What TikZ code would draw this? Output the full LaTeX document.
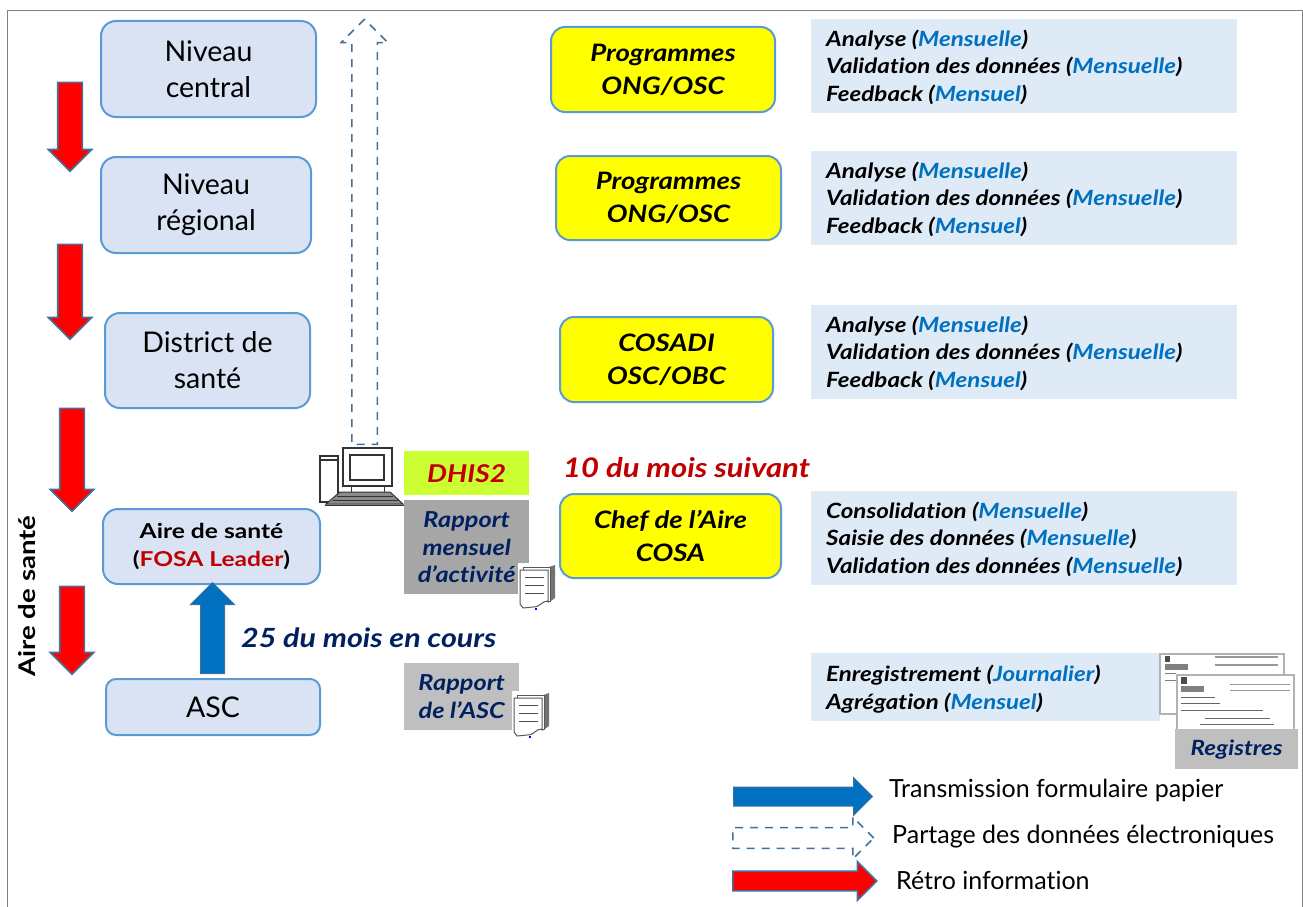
\documentclass[tikz,border=0pt]{standalone}
\usepackage{fontspec}
\setmainfont{Lato}[Ligatures=NoCommon,BoldItalicFeatures={FakeStretch=1.15},BoldFeatures={FakeStretch=1.2}]
\usetikzlibrary{shapes.arrows}
\definecolor{boxfill}{HTML}{DAE3F3}
\definecolor{boxline}{HTML}{5B9BD5}
\definecolor{panel}{HTML}{DEEAF6}
\definecolor{blueval}{HTML}{0070C0}
\definecolor{navy}{HTML}{002060}
\definecolor{darkred}{HTML}{C00000}
\definecolor{arrline}{HTML}{41719C}
\definecolor{dhisgreen}{HTML}{CCFF33}
\definecolor{progyellow}{HTML}{FFFF00}
\definecolor{arrred}{HTML}{FF0000}
\newcommand{\mval}[1]{\textcolor{blueval}{#1}}
\tikzset{
 x=1pt,y=-1pt,
 level/.style={draw=boxline,line width=2pt,fill=boxfill,rounded corners=15pt,align=center,font=\fontsize{28.5}{36}\selectfont,inner sep=0pt,anchor=north west},
 prog/.style={draw=boxline,line width=2pt,fill=progyellow,rounded corners=14pt,align=center,font=\fontsize{24}{33}\selectfont\bfseries\itshape,inner sep=0pt,anchor=north west},
 panelbox/.style={fill=panel,inner sep=0pt,anchor=north west},
 ptext/.style={anchor=west,align=left,font=\fontsize{21}{27.5}\selectfont\bfseries\itshape,inner sep=0pt},
 report/.style={align=center,text=navy,font=\fontsize{22}{27.5}\selectfont\bfseries\itshape,inner sep=0pt,anchor=north west},
 bigarrow/.style={single arrow,inner sep=11.5pt,single arrow head indent=0pt,minimum width=42pt,single arrow head extend=9.5pt,anchor=tail},
 redarrow/.style={bigarrow,draw=arrline,line width=1.6pt,fill=arrred,shape border rotate=270},
 legendtext/.style={anchor=west,inner sep=0pt,font=\fontsize{25}{30}\selectfont},
 doc/.style={draw=black!65,line width=1pt,fill=white},
}
\newcommand{\docicon}[1]{%
 \begin{scope}[shift={(#1)}]
  \fill[white] (-2,-2) rectangle (36,45);
  \fill[black!55] (26,3) -- (35,0) -- (35,33) -- (28,38) -- cycle;
  \draw[doc] (3,2) -- (30,2) -- (30,36) -- (3,36) -- cycle;
  \draw[doc] (0,5) -- (28,5) -- (28,36) .. controls (21,36) and (21,42) .. (13,42) -- (3,43) -- (0,39) -- cycle;
  \foreach \yy in {12,20,28} \draw[black!70,line width=1pt] (5,\yy) -- (24,\yy);
  \fill[blue] (15,42.5) rectangle (17,45);
 \end{scope}}
\begin{document}
\begin{tikzpicture}
\useasboundingbox (0,0) rectangle (1303,907);
\draw[black!50,line width=1.5pt] (7.5,907) -- (7.5,10.5) -- (1302.3,10.5) -- (1302.3,907);

% level boxes
\node[level,minimum width=215pt,minimum height=96pt] (central) at (100,20) {Niveau\\central};
\node[level,minimum width=210pt,minimum height=96pt] (regional) at (100,156) {Niveau\\régional};
\node[level,minimum width=205pt,minimum height=95pt] (district) at (104,312) {District de\\santé};
\node[level,minimum width=217pt,minimum height=75pt,font=\fontsize{20.5}{28}\selectfont\bfseries] (aire) at (102,508) {Aire de santé\\(\textcolor{darkred}{FOSA Leader})};
\node[level,minimum width=214pt,minimum height=56pt,rounded corners=10pt] (asc) at (105,678) {ASC};

% red arrows
\node[redarrow,minimum height=89pt] (r1) at (70,81.5) {};
\node[redarrow,minimum height=95pt] (r2) at (70,243.5) {};
\node[redarrow,minimum height=103pt] (r3) at (72,407.5) {};
\node[redarrow,minimum height=88pt] (r4) at (72,585.5) {};
\node[rotate=90,font=\fontsize{23}{26}\selectfont\bfseries,inner sep=0pt] (airelabel) at (27,596) {Aire de santé};

% up arrows
\node[bigarrow,fill=blueval,draw=arrline,line width=1pt,minimum height=91pt,shape border rotate=90,single arrow head extend=10pt] (up) at (212.5,674) {};
\node[bigarrow,inner sep=12pt,draw=arrline,line width=1.5pt,dash pattern=on 8pt off 7pt,minimum height=425pt,shape border rotate=90,single arrow head extend=10.5pt] (dash) at (364.5,445) {};
\node[font=\fontsize{26.5}{30}\selectfont\bfseries\itshape,text=navy,inner sep=0pt,anchor=west] (l25) at (241,638) {25 du mois en cours};

% computer
\begin{scope}
 \draw[black!80,line width=1.2pt,fill=white] (320,456) rectangle (338,502);
 \draw[black!80,line width=1.2pt] (321,460) -- (337,460);
 \draw[black!80,line width=1.2pt,fill=white] (343,448) rectangle (392,486);
 \draw[black!80,line width=1.5pt,fill=white] (350,455) rectangle (384,480);
 \draw[black!80,line width=1pt] (351,486) -- (351,492) (384,486) -- (384,492);
 \draw[black!80,line width=1pt,fill=black!45] (340,492) -- (390,492) -- (403,504) -- (326,504) -- cycle;
 \draw[black!80,line width=1pt] (337,496) -- (393,496) (333,500) -- (398,500);
 \draw[black!80,line width=1pt] (325,505.5) -- (405,505.5);
\end{scope}

% report tags
\node[fill=dhisgreen,inner sep=0pt,anchor=north west,minimum width=125pt,minimum height=44pt,text=darkred,font=\fontsize{24.5}{30}\selectfont\bfseries\itshape] (dhis) at (404,451) {DHIS2};
\node[report,fill=black!35,minimum width=125pt,minimum height=94pt] (rapm) at (404,500) {Rapport\\mensuel\\d’activité};
\docicon{520,565}
\node[report,fill=black!25,minimum width=115pt,minimum height=67pt] (rasc) at (404,663) {Rapport\\de l’ASC};
\docicon{514,693}

% yellow boxes
\node[prog,minimum width=224pt,minimum height=85pt] (p1) at (550,26) {Programmes\\ONG/OSC};
\node[prog,minimum width=225pt,minimum height=84pt] (p2) at (555,155) {Programmes\\ONG/OSC};
\node[prog,minimum width=213pt,minimum height=85pt] (p3) at (559,316) {COSADI\\OSC/OBC};
\node[prog,minimum width=221pt,minimum height=84pt] (p4) at (559,493) {Chef de l’Aire\\COSA};
\node[font=\fontsize{27}{30}\selectfont\bfseries\itshape,text=darkred,inner sep=0pt,anchor=west] (l10) at (563,468) {10 du mois suivant};

% panels
\node[panelbox,minimum width=426pt,minimum height=94pt] (a1) at (811,19) {};
\node[panelbox,minimum width=426pt,minimum height=94pt] (a2) at (811,151) {};
\node[panelbox,minimum width=426pt,minimum height=94pt] (a3) at (811,305) {};
\node[panelbox,minimum width=426pt,minimum height=94pt] (a4) at (811,491) {};
\node[panelbox,minimum width=349pt,minimum height=68pt] (a5) at (811,653) {};
\node[ptext] (t1) at (826,67) {Analyse (\mval{Mensuelle})\\Validation des données (\mval{Mensuelle})\\Feedback (\mval{Mensuel})};
\node[ptext] (t2) at (826,199) {Analyse (\mval{Mensuelle})\\Validation des données (\mval{Mensuelle})\\Feedback (\mval{Mensuel})};
\node[ptext] (t3) at (826,353) {Analyse (\mval{Mensuelle})\\Validation des données (\mval{Mensuelle})\\Feedback (\mval{Mensuel})};
\node[ptext] (t4) at (826,539) {Consolidation (\mval{Mensuelle})\\Saisie des données (\mval{Mensuelle})\\Validation des données (\mval{Mensuelle})};
\node[ptext] (t5) at (826,689) {Enregistrement (\mval{Journalier})\\Agrégation (\mval{Mensuel})};

% register forms
\begin{scope}
 \draw[black!30,line width=1.2pt,fill=white] (1160,654) rectangle (1284,714);
 \fill[black!70] (1165,656) rectangle (1170,662);
 \fill[black!50] (1165,664) rectangle (1188,670);
 \draw[black!50,line width=1pt] (1165,673) -- (1176,673) (1165,680) -- (1176,680);
 \draw[black!40,line width=1.2pt] (1215,657) -- (1278,657) (1215,665) -- (1278,665);
 \draw[black!30,line width=1.2pt,fill=white] (1177,675) rectangle (1294,735);
 \fill[black!70] (1181,677) rectangle (1187,684);
 \fill[black!50] (1181,686) rectangle (1204,692);
 \draw[black!60,line width=1pt] (1181,697) -- (1215,697) (1181,703) -- (1220,703) (1181,710) -- (1263,710);
 \draw[black!60,line width=1pt] (1205,718) -- (1270,718) (1200,724) -- (1274,724);
 \draw[black!40,line width=1pt] (1230,684) -- (1290,684) (1230,690) -- (1290,690);
\end{scope}
\node[report,fill=black!25,minimum width=123pt,minimum height=40pt,font=\fontsize{21}{28}\selectfont\bfseries\itshape] (reg) at (1175,729) {Registres};

% legend
\node[bigarrow,inner sep=9pt,fill=blueval,draw=arrline,line width=1pt,minimum height=139pt,minimum width=37pt,single arrow head extend=9.5pt] (lg1) at (733,796.5) {};
\node[bigarrow,inner sep=9.5pt,draw=arrline,line width=1.5pt,dash pattern=on 8pt off 7pt,minimum height=141pt,minimum width=42pt,single arrow head extend=10.5pt] (lg2) at (732,838) {};
\node[bigarrow,inner sep=9pt,fill=arrred,draw=arrline,line width=1.6pt,minimum height=144pt,minimum width=38pt,single arrow head extend=9.5pt] (lg3) at (732,881) {};
\node[legendtext] (lt1) at (889,790) {Transmission formulaire papier};
\node[legendtext] (lt2) at (892,837) {Partage des données électroniques};
\node[legendtext] (lt3) at (896,880) {Rétro information};
\end{tikzpicture}
\end{document}
